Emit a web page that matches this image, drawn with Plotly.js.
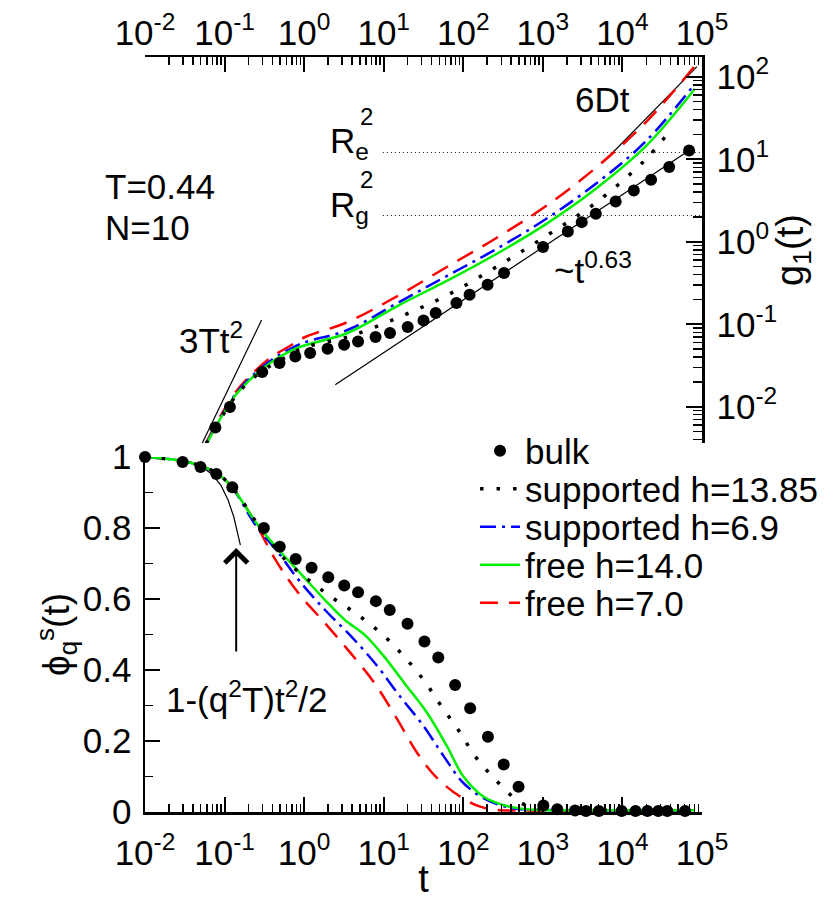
<!DOCTYPE html>
<html><head><meta charset="utf-8">
<script src="https://cdn.plot.ly/plotly-3.0.1.min.js"></script>
<style>html,body{margin:0;padding:0;background:#fff}</style>
</head><body>
<div id="chart" style="width:835px;height:900px"></div>
<script>
// ===== top panel: g1(t) =====
const tTop      = [0.0586, 0.1247, 0.203, 0.393, 0.640, 0.983, 3.57, 15.0, 62.8, 264, 1106, 4630, 19400, 81500];
const gFree7    = [0.00366, 0.0132, 0.0231, 0.0404, 0.0533, 0.0686, 0.107, 0.221, 0.498, 1.12, 2.73, 7.89, 27.7, 136];
const gSupp69   = [0.00356, 0.0125, 0.0218, 0.0372, 0.0491, 0.0597, 0.0857, 0.182, 0.387, 0.822, 1.90, 5.05, 16.3, 82.2];
const gFree14   = [0.00346, 0.0122, 0.0207, 0.0351, 0.0464, 0.0548, 0.0789, 0.1675, 0.337, 0.716, 1.65, 4.39, 14.2, 71.6];
const tTopS1385 = [0.0586, 0.1247, 0.203, 0.393, 0.640, 0.983, 3.57, 15.0, 62.8, 264, 1106, 4630, 19400, 37600];
const gSupp1385 = [0.00356, 0.0118, 0.0201, 0.0323, 0.0415, 0.0519, 0.0705, 0.120, 0.225, 0.50, 1.18, 2.97, 9.86, 20.9];
const tBulkTop  = [0.0766, 0.1167, 0.297, 0.49, 0.775, 1.19, 1.97, 3.18, 4.76, 7.9, 12.0, 20, 31.6, 45, 82, 120, 202, 325, 1005, 2060, 3080, 4630, 8220, 13900, 22900, 38700, 68800];
const gBulkTop  = [0.00561, 0.00991, 0.0263, 0.0339, 0.0407, 0.0448, 0.0505, 0.0565, 0.0619, 0.070, 0.0782, 0.0924, 0.111, 0.137, 0.181, 0.228, 0.301, 0.418, 0.863, 1.33, 1.73, 2.18, 3.08, 4.19, 5.65, 8.05, 12.8];
// reference lines (top)
const tBallistic = [0.0508, 0.292];   const gBallistic = [0.0034, 0.1125];   // 3Tt^2
const tSub       = [2.46, 68800];     const gSub       = [0.0185, 12.8];     // ~t^0.63
const tDiff      = [5710, 86300];     const gDiff      = [9.14, 133];        // 6Dt
const tRadius    = [9.75, 100000];
const gRe2 = [12.1, 12.1];
const gRg2 = [2.08, 2.08];

// ===== bottom panel: phi_q^s(t) =====
const tBulkBot = [0.01, 0.0297, 0.0498, 0.0789, 0.125, 0.312, 0.494, 0.783, 1.24, 2.01, 3.19, 4.76, 7.97, 11.9, 19.9, 32.5, 48.5, 79, 122, 204, 322, 495, 1015, 1517, 2541, 3483, 5058, 9780, 14600, 20600, 28200, 36600, 61200];
const phiBulk  = [1.0, 0.986, 0.972, 0.952, 0.915, 0.80, 0.747, 0.713, 0.688, 0.661, 0.638, 0.619, 0.594, 0.569, 0.530, 0.480, 0.435, 0.358, 0.292, 0.212, 0.134, 0.071, 0.018, 0.008, 0.004, 0.003, 0.003, 0.003, 0.003, 0.003, 0.003, 0.003, 0.003];
const tRedB   = [0.01, 0.0297, 0.0498, 0.0789, 0.121, 0.223, 0.437, 0.851, 1.83, 3.57, 7.67, 15.0, 26.6, 47.2, 92.0, 163, 264, 566, 5000, 80000];
const phiRed  = [1.0, 0.989, 0.975, 0.955, 0.918, 0.830, 0.710, 0.616, 0.532, 0.456, 0.363, 0.259, 0.165, 0.095, 0.043, 0.015, 0.006, 0.004, 0.004, 0.004];
const tBlueB  = [0.01, 0.0297, 0.0498, 0.0789, 0.121, 0.246, 0.480, 0.851, 1.83, 3.93, 8.45, 15.0, 32.2, 57.2, 101, 198, 386, 685, 5000, 80000];
const phiBlue = [1.0, 0.989, 0.975, 0.955, 0.918, 0.808, 0.729, 0.654, 0.569, 0.494, 0.409, 0.334, 0.240, 0.156, 0.081, 0.034, 0.012, 0.007, 0.005, 0.005];
const tGreenB = [0.01, 0.0297, 0.0498, 0.0789, 0.121, 0.270, 0.480, 0.935, 1.83, 3.25, 5.77, 10.2, 18.2, 35.4, 62.8, 101, 180, 351, 685, 5000, 80000];
const phiGreen= [1.0, 0.989, 0.975, 0.955, 0.918, 0.804, 0.738, 0.668, 0.597, 0.541, 0.499, 0.437, 0.363, 0.278, 0.184, 0.099, 0.043, 0.017, 0.007, 0.005, 0.005];
const tDotB   = [0.01, 0.0297, 0.0498, 0.0789, 0.121, 0.312, 0.582, 1.13, 2.32, 4.76, 9.75, 18.2, 32.2, 51.9, 87.9, 142, 251, 468, 685, 1200, 5000, 80000];
const phiDot  = [1.0, 0.989, 0.975, 0.955, 0.918, 0.785, 0.710, 0.654, 0.602, 0.555, 0.499, 0.437, 0.370, 0.301, 0.229, 0.156, 0.092, 0.034, 0.015, 0.006, 0.005, 0.005];
const tShort  = [0.01, 0.03, 0.05, 0.07, 0.09, 0.11, 0.13, 0.15, 0.158];
const phiShort= [0.999, 0.991, 0.975, 0.951, 0.920, 0.880, 0.833, 0.777, 0.752];

// tick labels
const xTickVals = [1e-2, 1e-1, 1e0, 1e1, 1e2, 1e3, 1e4, 1e5];
const xTickText = ['10<sup>-2</sup>','10<sup>-1</sup>','10<sup>0</sup>','10<sup>1</sup>','10<sup>2</sup>','10<sup>3</sup>','10<sup>4</sup>','10<sup>5</sup>'];
const gTickVals = [1e-2, 1e-1, 1e0, 1e1, 1e2];
const gTickText = ['10<sup>-2</sup>','10<sup>-1</sup>','10<sup>0</sup>','10<sup>1</sup>','10<sup>2</sup>'];
const phiTickVals = [0, 0.2, 0.4, 0.6, 0.8, 1];
const phiTickText = ['0','0.2','0.4','0.6','0.8','1'];
const legendNames = ['bulk', 'supported h=13.85', 'supported h=6.9', 'free h=14.0', 'free h=7.0'];

function minorLog(e0, e1) {
  const v = [];
  for (let e = e0; e < e1; e++) for (let k = 2; k <= 9; k++) v.push(k * Math.pow(10, e));
  return v;
}

const FONT = 'Liberation Sans, Arial, Helvetica, sans-serif';
const RED = '#ff0000', BLUE = '#0000ff', GREEN = '#00ee00', BLACK = '#000000';
const dotDash = '3.5px,13px', dashDot = '16px,6px,3px,6px', dashed = '18px,11px';

const traces = [
  // ---------- bottom panel ----------
  {x: tShort, y: phiShort, xaxis:'x', yaxis:'y', mode:'lines', line:{color:BLACK, width:1.2}, showlegend:false, hoverinfo:'skip'},
  {x: tRedB, y: phiRed, xaxis:'x', yaxis:'y', mode:'lines', line:{color:RED, width:2.5, dash:dashed, shape:'spline'}, name: legendNames[4], legend:'legend5'},
  {x: tBlueB, y: phiBlue, xaxis:'x', yaxis:'y', mode:'lines', line:{color:BLUE, width:2.5, dash:dashDot, shape:'spline'}, name: legendNames[2], legend:'legend3'},
  {x: tGreenB, y: phiGreen, xaxis:'x', yaxis:'y', mode:'lines', line:{color:GREEN, width:2.5, shape:'spline'}, name: legendNames[3], legend:'legend4'},
  {x: tDotB, y: phiDot, xaxis:'x', yaxis:'y', mode:'lines', line:{color:BLACK, width:3.5, dash:dotDash, shape:'spline'}, name: legendNames[1], legend:'legend2'},
  {x: tBulkBot, y: phiBulk, xaxis:'x', yaxis:'y', mode:'markers', marker:{color:BLACK, size:12}, cliponaxis:false, name: legendNames[0], legend:'legend'},
  // ---------- top panel ----------
  {x: tRadius, y: gRe2, xaxis:'x2', yaxis:'y2', mode:'lines', line:{color:BLACK, width:1, dash:'1px,3px'}, showlegend:false, hoverinfo:'skip'},
  {x: tRadius, y: gRg2, xaxis:'x2', yaxis:'y2', mode:'lines', line:{color:BLACK, width:1, dash:'1px,3px'}, showlegend:false, hoverinfo:'skip'},
  {x: tBallistic, y: gBallistic, xaxis:'x2', yaxis:'y2', mode:'lines', line:{color:BLACK, width:1.2}, showlegend:false, hoverinfo:'skip'},
  {x: tSub, y: gSub, xaxis:'x2', yaxis:'y2', mode:'lines', line:{color:BLACK, width:1.2}, showlegend:false, hoverinfo:'skip'},
  {x: tDiff, y: gDiff, xaxis:'x2', yaxis:'y2', mode:'lines', line:{color:BLACK, width:1.2}, showlegend:false, hoverinfo:'skip'},
  {x: tTop, y: gFree7, xaxis:'x2', yaxis:'y2', mode:'lines', line:{color:RED, width:2.5, dash:dashed, shape:'spline'}, showlegend:false},
  {x: tTop, y: gSupp69, xaxis:'x2', yaxis:'y2', mode:'lines', line:{color:BLUE, width:2.5, dash:dashDot, shape:'spline'}, showlegend:false},
  {x: tTop, y: gFree14, xaxis:'x2', yaxis:'y2', mode:'lines', line:{color:GREEN, width:2.5, shape:'spline'}, showlegend:false},
  {x: tTopS1385, y: gSupp1385, xaxis:'x2', yaxis:'y2', mode:'lines', line:{color:BLACK, width:3.5, dash:dotDash, shape:'spline'}, showlegend:false},
  {x: tBulkTop, y: gBulkTop, xaxis:'x2', yaxis:'y2', mode:'markers', marker:{color:BLACK, size:12}, showlegend:false}
];

// pixel -> paper helpers for annotation placement
const L = 145, R = 707, T = 57, B = 812;
const px = v => (v - L) / (R - L);
const py = v => (B - v) / (B - T);

const tickFont = {family: FONT, size: 35, color: BLACK};
const commonAxis = {showline:true, linecolor:BLACK, linewidth:2.5, ticks:'inside', tickcolor:BLACK, tickwidth:2, ticklen:15,
  showgrid:false, zeroline:false, tickfont: tickFont, automargin:false};

function legendAt(yPix) {
  return {x: px(478), xanchor:'left', y: py(yPix), yanchor:'middle', bgcolor:'rgba(0,0,0,0)', borderwidth:0,
    font:{family:FONT, size:35, color:BLACK}, itemwidth:40, tracegroupgap:0};
}

const annFont = {family: FONT, size: 35, color: BLACK};
const supFont = {family: FONT, size: 24, color: BLACK};
function ann(text, x, y, font) {
  return {text, x: px(x), y: py(y), xref:'paper', yref:'paper', showarrow:false, font: font || annFont, xanchor:'center', yanchor:'middle'};
}

const layout = {
  width: 835, height: 900,
  margin: {l: L, r: 835 - R, t: T, b: 900 - B, pad: 0},
  paper_bgcolor: '#fff', plot_bgcolor: '#fff',
  font: {family: FONT, color: BLACK},
  xaxis: Object.assign({}, commonAxis, {type:'log', range:[-2, 5], domain:[0,1], anchor:'y', side:'bottom',
    tickmode:'array', tickvals:xTickVals, ticktext:xTickText, ticklabelstandoff: 8,
    minor:{tickmode:'array', tickvals:minorLog(-2, 5), ticks:'inside', ticklen:8, tickwidth:1.5, tickcolor:BLACK, showgrid:false},
    title:{text:'t', font:{family:FONT, size:38, color:BLACK}, standoff: 0}}),
  yaxis: Object.assign({}, commonAxis, {range:[0, 1], domain:[0, 0.4702], anchor:'x', side:'left',
    tickmode:'array', tickvals:phiTickVals, ticktext:phiTickText, ticklabelstandoff: 4,
    minor:{tickmode:'array', tickvals:[0.1,0.3,0.5,0.7,0.9], ticks:'inside', ticklen:8, tickwidth:1.5, tickcolor:BLACK, showgrid:false},
    title:{text:'ϕ<sub>q</sub><sup>s</sup>(t)', font:{family:FONT, size:37, color:BLACK}, standoff: 2}}),
  xaxis2: Object.assign({}, commonAxis, {type:'log', range:[-2, 5], domain:[0,1], anchor:'y2', side:'top', matches:'x',
    tickmode:'array', tickvals:xTickVals, ticktext:xTickText, ticklabelstandoff: -4,
    minor:{tickmode:'array', tickvals:minorLog(-2, 5), ticks:'inside', ticklen:8, tickwidth:1.5, tickcolor:BLACK, showgrid:false}}),
  yaxis2: Object.assign({}, commonAxis, {type:'log', range:[-2.44, 2.24], domain:[0.4887, 1], anchor:'x2', side:'right',
    tickmode:'array', tickvals:gTickVals, ticktext:gTickText, ticklabelstandoff: 5, ticklen:16,
    minor:{tickmode:'array', tickvals:minorLog(-3, 3), ticks:'inside', ticklen:9, tickwidth:1.5, tickcolor:BLACK, showgrid:false},
    title:{text:'g<sub>1</sub>(t)', font:{family:FONT, size:38, color:BLACK}, standoff: 0}}),
  legend: legendAt(451),
  legend2: legendAt(489),
  legend3: legendAt(527),
  legend4: legendAt(565),
  legend5: legendAt(603),
  annotations: [
    ann('T=0.44', 160, 186),
    ann('N=10', 148, 228),
    ann('3Tt<sup>2</sup>', 212, 338),
    ann('R<sub>e</sub>', 351, 143),
    ann('2', 368, 116, supFont),
    ann('R<sub>g</sub>', 351, 207),
    ann('2', 368, 180, supFont),
    ann('6Dt', 607, 99),
    ann('~t<sup>0.63</sup>', 597, 268),
    ann('1-(q<sup>2</sup>T)t<sup>2</sup>/2', 248, 697),
    {text:'', x: px(237), y: py(548), xref:'paper', yref:'paper', showarrow:true, ax:0, ay:105,
      arrowhead:4, arrowsize:2.2, arrowwidth:2, arrowcolor:BLACK, standoff:0, startstandoff:0}
  ],
  showlegend: true
};

Plotly.newPlot('chart', traces, layout, {staticPlot:true, displayModeBar:false});
</script>
</body></html>
